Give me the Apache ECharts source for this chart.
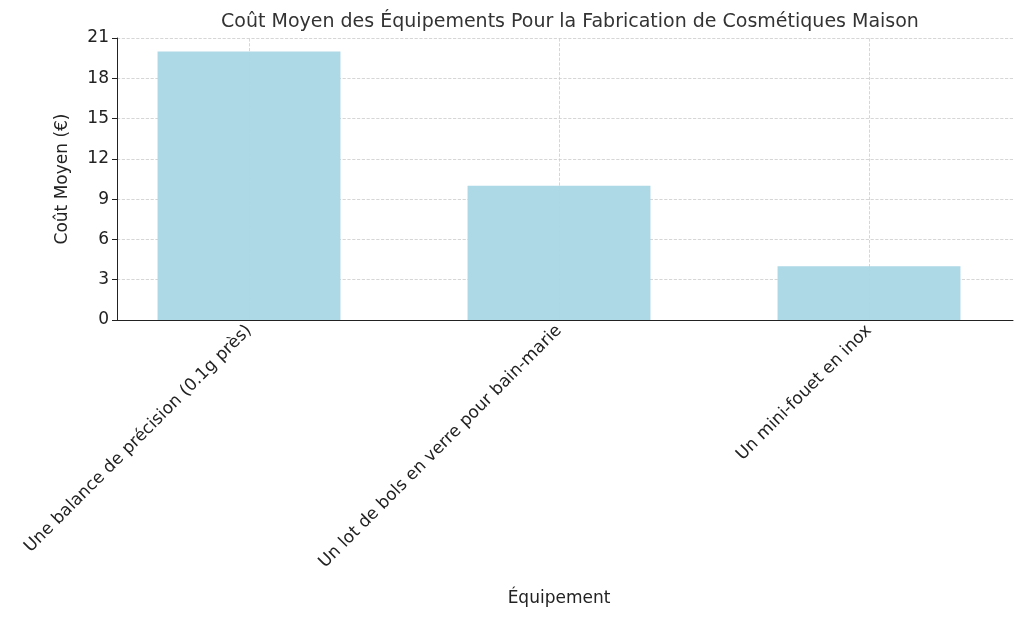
<!DOCTYPE html>
<html><head><meta charset="utf-8">
<script src="https://cdn.jsdelivr.net/npm/echarts@6/dist/echarts.min.js"></script>
<style>html,body{margin:0;background:#fff}#c{width:1024px;height:618px}</style>
</head><body><div id="c"></div>
<script>
var categories = ['Une balance de précision (0.1g près)', 'Un lot de bols en verre pour bain-marie', 'Un mini-fouet en inox'];
var costs = [20, 10, 4];
var yTicks = [0, 3, 6, 9, 12, 15, 18, 21];

var chart = echarts.init(document.getElementById('c'));
var font = 'DejaVu Sans';
var dashed = {color: '#cccccc', type: 'dashed', width: 0.8};
var yMax = yTicks[yTicks.length - 1];

chart.setOption({
	animation: false,
	textStyle: {fontFamily: font},
	title: {text: 'Coût Moyen des Équipements Pour la Fabrication de Cosmétiques Maison', left: 565, top: 8, textAlign: 'center',
		textStyle: {fontFamily: font, fontSize: 19, fontWeight: 'normal', color: '#333'}},
	grid: [
		{left: 94, right: -12, top: 38, bottom: 298},
		{left: 117, right: 11, top: 38, bottom: 298}
	],
	xAxis: [{
		gridIndex: 0, type: 'category', data: categories,
		name: 'Équipement', nameLocation: 'middle', nameGap: 270,
		nameTextStyle: {fontSize: 17, color: '#222'},
		axisLine: {show: false},
		axisTick: {alignWithLabel: true, lineStyle: {color: '#222'}},
		axisLabel: {rotate: 45, fontSize: 17, color: '#222', margin: 8},
		splitLine: {show: false}
	}, {
		gridIndex: 1, type: 'value', min: 0, max: 1,
		axisLine: {show: true, onZero: false, lineStyle: {color: '#222'}},
		axisTick: {show: false}, axisLabel: {show: false}, splitLine: {show: false}
	}],
	yAxis: [{
		gridIndex: 0, type: 'value', min: 0, max: yMax, interval: 3, show: false
	}, {
		gridIndex: 1, type: 'value', min: 0, max: yMax, interval: 3,
		name: 'Coût Moyen (€)', nameLocation: 'middle', nameGap: 46,
		nameTextStyle: {fontSize: 17, color: '#222'},
		axisLine: {show: true, lineStyle: {color: '#222'}},
		axisTick: {show: true, lineStyle: {color: '#222'}},
		axisLabel: {fontSize: 17, color: '#222'},
		splitLine: {show: true, lineStyle: dashed}
	}],
	series: [{
		type: 'bar', xAxisIndex: 0, yAxisIndex: 0, data: costs, barWidth: '59%',
		itemStyle: {color: '#add8e6'},
		markLine: {
			silent: true, symbol: 'none', label: {show: false},
			lineStyle: dashed,
			data: categories.map(function(c){ return {xAxis: c}; })
		}
	}]
});
</script></body></html>
